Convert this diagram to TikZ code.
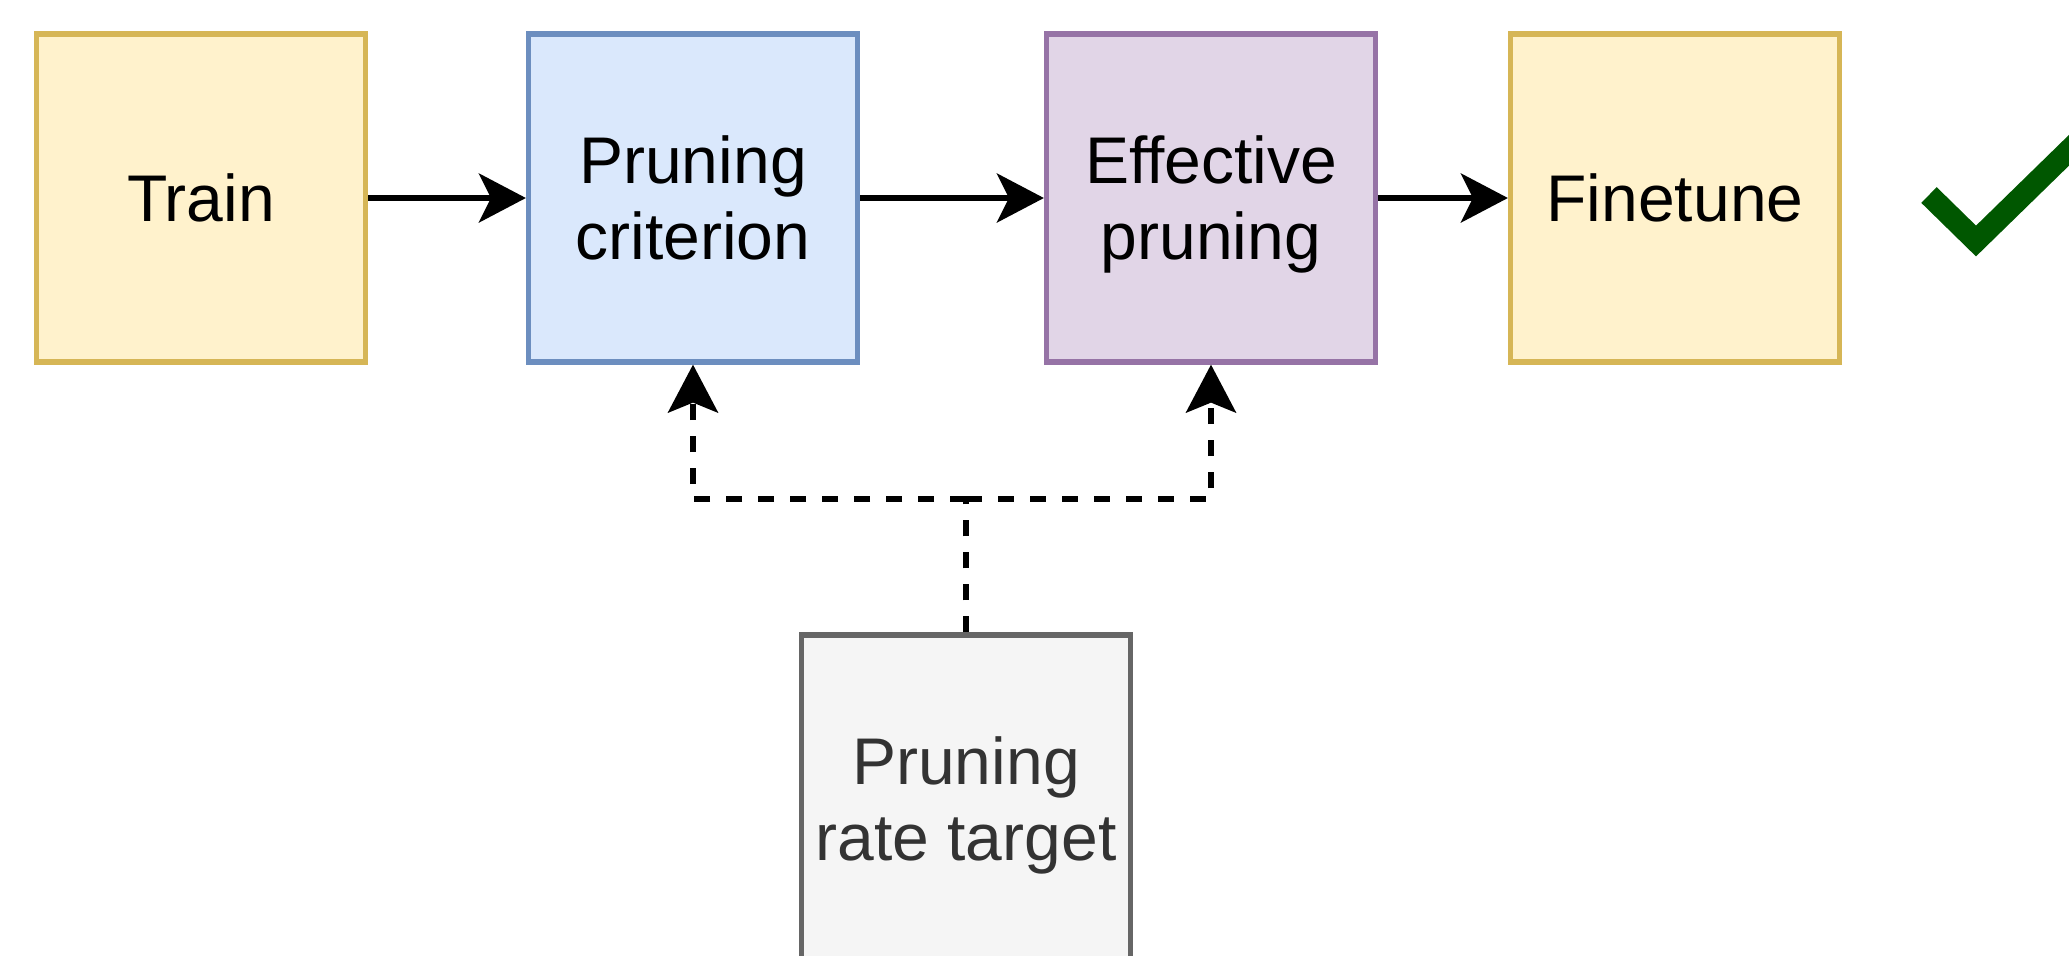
\documentclass[tikz,border=0pt]{standalone}
\usepackage{fontspec}
\setmainfont{Liberation Sans}
\usetikzlibrary{arrows.meta}
\definecolor{yfill}{HTML}{FFF2CC}\definecolor{ydraw}{HTML}{D6B656}
\definecolor{bfill}{HTML}{DAE8FC}\definecolor{bdraw}{HTML}{6C8EBF}
\definecolor{pfill}{HTML}{E1D5E7}\definecolor{pdraw}{HTML}{9673A6}
\definecolor{gfill}{HTML}{F5F5F5}\definecolor{gdraw}{HTML}{666666}
\definecolor{gtext}{HTML}{333333}
\definecolor{tick}{HTML}{005700}
\begin{document}
\begin{tikzpicture}[x=0.5pt,y=-0.5pt,
  stage/.style={draw, line width=2.6pt, minimum width=164.5pt, minimum height=164pt,
    inner sep=0pt, align=center, text depth=0pt, font=\fontsize{33}{38}\selectfont},
  flow/.style={line width=2.8pt, -{Stealth[length=23.5pt,width=24.5pt,inset=6pt]}},
  rate/.style={line width=2.8pt, dash pattern=on 8pt off 8pt, -{Stealth[length=24pt,width=25pt,inset=5pt]}},
  ratebar/.style={line width=2.8pt, dash pattern=on 8pt off 8pt}]
\useasboundingbox (0,0) rectangle (2069,955);
\clip (0,0) rectangle (2069,955);
\node[stage, fill=yfill, draw=ydraw] (train) at (201,198) {Train};
\node[stage, fill=bfill, draw=bdraw] (crit) at (693,198) {Pruning\\criterion};
\node[stage, fill=pfill, draw=pdraw] (eff) at (1211,198) {Effective\\pruning};
\node[stage, fill=yfill, draw=ydraw] (fine) at (1675,198) {Finetune};
\node[stage, fill=gfill, draw=gdraw, text=gtext] (target) at (966,799) {Pruning\\rate target};
\coordinate (split) at (966,499);
\draw[flow] (train.east) -- (crit.west);
\draw[flow] (crit.east) -- (eff.west);
\draw[flow] (eff.east) -- (fine.west);
\draw[ratebar] (target.north) -- (split);
\draw[rate] (split) -| (crit.south);
\draw[rate] (split) -| (eff.south);
% green check mark at the right edge
\draw[tick, line width=11pt, line join=miter] (1929,195) -- (1976,241) -- (2100,120);
\end{tikzpicture}
\end{document}
